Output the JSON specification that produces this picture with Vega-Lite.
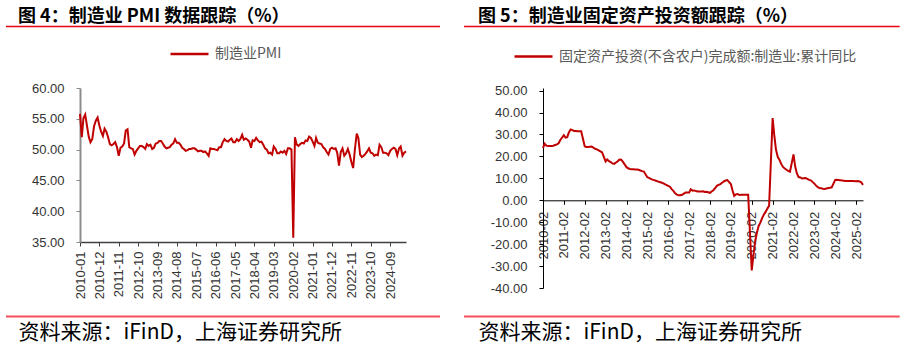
{
  "$schema": "https://vega.github.io/schema/vega-lite/v6.json",
  "padding": {"left": 5, "top": 8, "right": 0, "bottom": 2},
  "background": "white",
  "spacing": 137,
  "bounds": "flush",
  "datasets": {
    "pmi": [
      {"d":"2010-01","v":55.8},{"d":"2010-02","v":52.0},{"d":"2010-03","v":55.1},{"d":"2010-04","v":55.7},{"d":"2010-05","v":53.9},{"d":"2010-06","v":52.1},{"d":"2010-07","v":51.2},{"d":"2010-08","v":51.7},{"d":"2010-09","v":53.8},{"d":"2010-10","v":54.7},{"d":"2010-11","v":55.2},{"d":"2010-12","v":53.9},
      {"d":"2011-01","v":52.9},{"d":"2011-02","v":52.2},{"d":"2011-03","v":53.4},{"d":"2011-04","v":52.9},{"d":"2011-05","v":52.0},{"d":"2011-06","v":50.9},{"d":"2011-07","v":50.7},{"d":"2011-08","v":50.9},{"d":"2011-09","v":51.2},{"d":"2011-10","v":50.4},{"d":"2011-11","v":49.0},{"d":"2011-12","v":50.3},
      {"d":"2012-01","v":50.5},{"d":"2012-02","v":51.0},{"d":"2012-03","v":53.1},{"d":"2012-04","v":53.3},{"d":"2012-05","v":50.4},{"d":"2012-06","v":50.2},{"d":"2012-07","v":50.1},{"d":"2012-08","v":49.2},{"d":"2012-09","v":49.8},{"d":"2012-10","v":50.2},{"d":"2012-11","v":50.6},{"d":"2012-12","v":50.6},
      {"d":"2013-01","v":50.4},{"d":"2013-02","v":50.1},{"d":"2013-03","v":50.9},{"d":"2013-04","v":50.6},{"d":"2013-05","v":50.8},{"d":"2013-06","v":50.1},{"d":"2013-07","v":50.3},{"d":"2013-08","v":51.0},{"d":"2013-09","v":51.1},{"d":"2013-10","v":51.4},{"d":"2013-11","v":51.4},{"d":"2013-12","v":51.0},
      {"d":"2014-01","v":50.5},{"d":"2014-02","v":50.2},{"d":"2014-03","v":50.3},{"d":"2014-04","v":50.4},{"d":"2014-05","v":50.8},{"d":"2014-06","v":51.0},{"d":"2014-07","v":51.7},{"d":"2014-08","v":51.1},{"d":"2014-09","v":51.1},{"d":"2014-10","v":50.8},{"d":"2014-11","v":50.3},{"d":"2014-12","v":50.1},
      {"d":"2015-01","v":49.8},{"d":"2015-02","v":49.9},{"d":"2015-03","v":50.1},{"d":"2015-04","v":50.1},{"d":"2015-05","v":50.2},{"d":"2015-06","v":50.2},{"d":"2015-07","v":50.0},{"d":"2015-08","v":49.7},{"d":"2015-09","v":49.8},{"d":"2015-10","v":49.8},{"d":"2015-11","v":49.6},{"d":"2015-12","v":49.7},
      {"d":"2016-01","v":49.4},{"d":"2016-02","v":49.0},{"d":"2016-03","v":50.2},{"d":"2016-04","v":50.1},{"d":"2016-05","v":50.1},{"d":"2016-06","v":50.0},{"d":"2016-07","v":49.9},{"d":"2016-08","v":50.4},{"d":"2016-09","v":50.4},{"d":"2016-10","v":51.2},{"d":"2016-11","v":51.7},{"d":"2016-12","v":51.4},
      {"d":"2017-01","v":51.3},{"d":"2017-02","v":51.6},{"d":"2017-03","v":51.8},{"d":"2017-04","v":51.2},{"d":"2017-05","v":51.2},{"d":"2017-06","v":51.7},{"d":"2017-07","v":51.4},{"d":"2017-08","v":51.7},{"d":"2017-09","v":52.4},{"d":"2017-10","v":51.6},{"d":"2017-11","v":51.8},{"d":"2017-12","v":51.6},
      {"d":"2018-01","v":51.3},{"d":"2018-02","v":50.3},{"d":"2018-03","v":51.5},{"d":"2018-04","v":51.4},{"d":"2018-05","v":51.9},{"d":"2018-06","v":51.5},{"d":"2018-07","v":51.2},{"d":"2018-08","v":51.3},{"d":"2018-09","v":50.8},{"d":"2018-10","v":50.2},{"d":"2018-11","v":50.0},{"d":"2018-12","v":49.4},
      {"d":"2019-01","v":49.5},{"d":"2019-02","v":49.2},{"d":"2019-03","v":50.5},{"d":"2019-04","v":50.1},{"d":"2019-05","v":49.4},{"d":"2019-06","v":49.4},{"d":"2019-07","v":49.7},{"d":"2019-08","v":49.5},{"d":"2019-09","v":49.8},{"d":"2019-10","v":49.3},{"d":"2019-11","v":50.2},{"d":"2019-12","v":50.2},
      {"d":"2020-01","v":50.0},{"d":"2020-02","v":35.7},{"d":"2020-03","v":52.0},{"d":"2020-04","v":50.8},{"d":"2020-05","v":50.6},{"d":"2020-06","v":50.9},{"d":"2020-07","v":51.1},{"d":"2020-08","v":51.0},{"d":"2020-09","v":51.5},{"d":"2020-10","v":51.4},{"d":"2020-11","v":52.1},{"d":"2020-12","v":51.9},
      {"d":"2021-01","v":51.3},{"d":"2021-02","v":50.6},{"d":"2021-03","v":51.9},{"d":"2021-04","v":51.1},{"d":"2021-05","v":51.0},{"d":"2021-06","v":50.9},{"d":"2021-07","v":50.4},{"d":"2021-08","v":50.1},{"d":"2021-09","v":49.6},{"d":"2021-10","v":49.2},{"d":"2021-11","v":50.1},{"d":"2021-12","v":50.3},
      {"d":"2022-01","v":50.1},{"d":"2022-02","v":50.2},{"d":"2022-03","v":49.5},{"d":"2022-04","v":47.4},{"d":"2022-05","v":49.6},{"d":"2022-06","v":50.2},{"d":"2022-07","v":49.0},{"d":"2022-08","v":49.4},{"d":"2022-09","v":50.1},{"d":"2022-10","v":49.2},{"d":"2022-11","v":48.0},{"d":"2022-12","v":47.0},
      {"d":"2023-01","v":50.1},{"d":"2023-02","v":52.6},{"d":"2023-03","v":51.9},{"d":"2023-04","v":49.2},{"d":"2023-05","v":48.8},{"d":"2023-06","v":49.0},{"d":"2023-07","v":49.3},{"d":"2023-08","v":49.7},{"d":"2023-09","v":50.2},{"d":"2023-10","v":49.5},{"d":"2023-11","v":49.4},{"d":"2023-12","v":49.0},
      {"d":"2024-01","v":49.2},{"d":"2024-02","v":49.1},{"d":"2024-03","v":50.8},{"d":"2024-04","v":50.4},{"d":"2024-05","v":49.5},{"d":"2024-06","v":49.5},{"d":"2024-07","v":49.4},{"d":"2024-08","v":49.1},{"d":"2024-09","v":49.8},{"d":"2024-10","v":50.1},{"d":"2024-11","v":50.3},{"d":"2024-12","v":50.1},
      {"d":"2025-01","v":49.1},{"d":"2025-02","v":50.2},{"d":"2025-03","v":50.5},{"d":"2025-04","v":49.0},{"d":"2025-05","v":49.5},{"d":"2025-06","v":49.7}
    ],
    "fai": [
      {"d":"2010-02","v":23.8},{"d":"2010-03","v":25.8},{"d":"2010-04","v":24.9},{"d":"2010-05","v":24.8},{"d":"2010-06","v":24.8},{"d":"2010-07","v":24.8},{"d":"2010-08","v":24.9},{"d":"2010-09","v":25.2},{"d":"2010-10","v":25.5},{"d":"2010-11","v":26.0},{"d":"2010-12","v":27.5},
      {"d":"2011-02","v":29.7},{"d":"2011-03","v":28.6},{"d":"2011-04","v":28.8},{"d":"2011-05","v":31.0},{"d":"2011-06","v":32.3},{"d":"2011-07","v":32.0},{"d":"2011-08","v":31.6},{"d":"2011-09","v":31.6},{"d":"2011-10","v":31.5},{"d":"2011-11","v":31.5},{"d":"2011-12","v":31.5},
      {"d":"2012-02","v":24.6},{"d":"2012-03","v":24.3},{"d":"2012-04","v":24.3},{"d":"2012-05","v":24.4},{"d":"2012-06","v":24.5},{"d":"2012-07","v":24.0},{"d":"2012-08","v":23.5},{"d":"2012-09","v":23.2},{"d":"2012-10","v":22.8},{"d":"2012-11","v":22.3},{"d":"2012-12","v":21.8},
      {"d":"2013-02","v":17.7},{"d":"2013-03","v":18.6},{"d":"2013-04","v":17.8},{"d":"2013-05","v":17.4},{"d":"2013-06","v":16.8},{"d":"2013-07","v":16.6},{"d":"2013-08","v":17.2},{"d":"2013-09","v":17.8},{"d":"2013-10","v":18.6},{"d":"2013-11","v":18.5},{"d":"2013-12","v":17.5},
      {"d":"2014-02","v":15.1},{"d":"2014-03","v":14.6},{"d":"2014-04","v":14.3},{"d":"2014-05","v":14.2},{"d":"2014-06","v":14.1},{"d":"2014-07","v":14.0},{"d":"2014-08","v":14.0},{"d":"2014-09","v":13.9},{"d":"2014-10","v":13.6},{"d":"2014-11","v":13.3},{"d":"2014-12","v":13.1},
      {"d":"2015-02","v":10.5},{"d":"2015-03","v":10.2},{"d":"2015-04","v":9.8},{"d":"2015-05","v":9.4},{"d":"2015-06","v":9.2},{"d":"2015-07","v":8.9},{"d":"2015-08","v":8.6},{"d":"2015-09","v":8.3},{"d":"2015-10","v":8.1},{"d":"2015-11","v":7.8},{"d":"2015-12","v":7.4},
      {"d":"2016-02","v":6.6},{"d":"2016-03","v":6.2},{"d":"2016-04","v":5.1},{"d":"2016-05","v":4.3},{"d":"2016-06","v":3.2},{"d":"2016-07","v":2.6},{"d":"2016-08","v":2.3},{"d":"2016-09","v":2.3},{"d":"2016-10","v":2.5},{"d":"2016-11","v":3.0},{"d":"2016-12","v":3.5},
      {"d":"2017-02","v":3.5},{"d":"2017-03","v":5.0},{"d":"2017-04","v":4.4},{"d":"2017-05","v":4.5},{"d":"2017-06","v":4.2},{"d":"2017-07","v":4.0},{"d":"2017-08","v":4.0},{"d":"2017-09","v":4.0},{"d":"2017-10","v":4.1},{"d":"2017-11","v":3.8},{"d":"2017-12","v":3.9},
      {"d":"2018-02","v":3.4},{"d":"2018-03","v":4.0},{"d":"2018-04","v":4.6},{"d":"2018-05","v":5.5},{"d":"2018-06","v":6.6},{"d":"2018-07","v":7.0},{"d":"2018-08","v":7.4},{"d":"2018-09","v":8.0},{"d":"2018-10","v":8.6},{"d":"2018-11","v":9.0},{"d":"2018-12","v":9.2},
      {"d":"2019-02","v":7.4},{"d":"2019-03","v":4.6},{"d":"2019-04","v":2.0},{"d":"2019-05","v":2.7},{"d":"2019-06","v":2.8},{"d":"2019-07","v":2.4},{"d":"2019-08","v":2.5},{"d":"2019-09","v":2.5},{"d":"2019-10","v":2.5},{"d":"2019-11","v":2.5},{"d":"2019-12","v":2.5},
      {"d":"2020-02","v":-32.0},{"d":"2020-03","v":-25.2},{"d":"2020-04","v":-18.8},{"d":"2020-05","v":-14.8},{"d":"2020-06","v":-11.7},{"d":"2020-07","v":-10.2},{"d":"2020-08","v":-8.1},{"d":"2020-09","v":-6.5},{"d":"2020-10","v":-5.3},{"d":"2020-11","v":-3.8},{"d":"2020-12","v":-2.5},
      {"d":"2021-02","v":37.5},{"d":"2021-03","v":29.8},{"d":"2021-04","v":23.0},{"d":"2021-05","v":19.8},{"d":"2021-06","v":18.4},{"d":"2021-07","v":16.6},{"d":"2021-08","v":15.2},{"d":"2021-09","v":14.5},{"d":"2021-10","v":13.9},{"d":"2021-11","v":13.4},{"d":"2021-12","v":13.0},
      {"d":"2022-02","v":20.9},{"d":"2022-03","v":15.6},{"d":"2022-04","v":12.2},{"d":"2022-05","v":10.6},{"d":"2022-06","v":10.4},{"d":"2022-07","v":9.9},{"d":"2022-08","v":10.0},{"d":"2022-09","v":10.1},{"d":"2022-10","v":9.8},{"d":"2022-11","v":9.3},{"d":"2022-12","v":9.1},
      {"d":"2023-02","v":7.6},{"d":"2023-03","v":6.8},{"d":"2023-04","v":6.0},{"d":"2023-05","v":5.6},{"d":"2023-06","v":5.5},{"d":"2023-07","v":5.3},{"d":"2023-08","v":5.2},{"d":"2023-09","v":5.4},{"d":"2023-10","v":5.6},{"d":"2023-11","v":5.7},{"d":"2023-12","v":5.9},
      {"d":"2024-02","v":9.3},{"d":"2024-03","v":9.4},{"d":"2024-04","v":9.2},{"d":"2024-05","v":9.1},{"d":"2024-06","v":9.0},{"d":"2024-07","v":8.9},{"d":"2024-08","v":8.8},{"d":"2024-09","v":8.8},{"d":"2024-10","v":8.8},{"d":"2024-11","v":8.8},{"d":"2024-12","v":8.8},
      {"d":"2025-02","v":8.7},{"d":"2025-03","v":8.8},{"d":"2025-04","v":8.6},{"d":"2025-05","v":8.2},{"d":"2025-06","v":7.0}
    ]
  },
  "resolve": {"scale": {"color": "independent"}, "legend": {"color": "independent"}},
  "hconcat": [
    {
      "width": 326,
      "height": 154,
      "title": {"text": "图 4：制造业 PMI 数据跟踪（%）", "anchor": "start", "frame": "group", "dx": -62, "offset": -0.7, "fontSize": 18, "font": "Noto Sans CJK SC", "fontWeight": "bold", "color": "#000000", "limit": 500},
      "layer": [
        {
          "data": {"name": "pmi"},
          "mark": {"type": "line", "strokeWidth": 2, "clip": false},
          "encoding": {
            "x": {
              "field": "d", "type": "temporal",
              "scale": {"type": "utc", "domain": [{"year": 2010, "month": 1, "date": 1, "utc": true}, {"year": 2025, "month": 6, "date": 1, "utc": true}]},
              "axis": {
                "values": [
                  {"year":2010,"month":1,"date":1,"utc":true},{"year":2010,"month":12,"date":1,"utc":true},{"year":2011,"month":11,"date":1,"utc":true},{"year":2012,"month":10,"date":1,"utc":true},
                  {"year":2013,"month":9,"date":1,"utc":true},{"year":2014,"month":8,"date":1,"utc":true},{"year":2015,"month":7,"date":1,"utc":true},{"year":2016,"month":6,"date":1,"utc":true},
                  {"year":2017,"month":5,"date":1,"utc":true},{"year":2018,"month":4,"date":1,"utc":true},{"year":2019,"month":3,"date":1,"utc":true},{"year":2020,"month":2,"date":1,"utc":true},
                  {"year":2021,"month":1,"date":1,"utc":true},{"year":2021,"month":12,"date":1,"utc":true},{"year":2022,"month":11,"date":1,"utc":true},{"year":2023,"month":10,"date":1,"utc":true},
                  {"year":2024,"month":9,"date":1,"utc":true}
                ],
                "labelExpr": "utcFormat(datum.value, '%Y-%m')",
                "labelAngle": -90, "labelAlign": "right", "labelBaseline": "middle", "labelPadding": 5,
                "labelFlush": false, "labelOverlap": false, "labelBound": false,
                "tickSize": 4, "domainColor": "#404040", "tickColor": "#404040", "domainWidth": 1.5,
                "title": "资料来源：iFinD，上海证券研究所",
                "titleFont": "Noto Sans CJK SC", "titleFontSize": 21, "titleFontWeight": "normal", "titleColor": "#000000",
                "titleAnchor": "start", "titleAlign": "left", "titleBaseline": "middle", "titleAngle": 0,
                "titleX": -62, "titleY": 90.5, "titleLimit": 500
              }
            },
            "y": {
              "field": "v", "type": "quantitative",
              "scale": {"domain": [35, 60], "nice": false, "zero": false},
              "axis": {
                "values": [35, 40, 45, 50, 55, 60], "format": ".2f", "title": null,
                "labelPadding": 12, "tickSize": 4, "domainColor": "#8c8c8c", "tickColor": "#8c8c8c", "domainWidth": 2
              }
            },
            "color": {
              "datum": "制造业PMI", "type": "nominal",
              "scale": {"range": ["#c00000"]},
              "legend": {"orient": "none", "legendX": 89, "legendY": -54.5, "title": null, "symbolType": "stroke", "symbolSize": 1444, "symbolStrokeWidth": 2.5, "labelFont": "Noto Sans CJK SC", "labelFontSize": 14, "labelColor": "#595959", "labelOffset": 5, "padding": 0}
            }
          }
        },
        {
          "data": {"values": [{}]},
          "mark": {"type": "rule", "color": "#e60012", "strokeWidth": 1.5},
          "encoding": {"x": {"value": -74}, "x2": {"value": 360}, "y": {"value": -61.6}}
        },
        {
          "data": {"values": [{}]},
          "mark": {"type": "rule", "color": "#f5505a", "strokeWidth": 2},
          "encoding": {"x": {"value": -74}, "x2": {"value": 360}, "y": {"value": 228.4}}
        }
      ]
    },
    {
      "width": 320,
      "height": 200,
      "title": {"text": "图 5：制造业固定资产投资额跟踪（%）", "anchor": "start", "frame": "group", "dx": -65, "offset": -0.7, "fontSize": 18, "font": "Noto Sans CJK SC", "fontWeight": "bold", "color": "#000000", "limit": 500},
      "layer": [
        {
          "data": {"name": "fai"},
          "mark": {"type": "line", "strokeWidth": 2, "clip": false},
          "encoding": {
            "x": {
              "field": "d", "type": "temporal",
              "scale": {"type": "utc", "domain": [{"year": 2010, "month": 2, "date": 1, "utc": true}, {"year": 2025, "month": 6, "date": 1, "utc": true}]},
              "axis": {
                "values": [
                  {"year":2010,"month":2,"date":1,"utc":true},{"year":2011,"month":2,"date":1,"utc":true},{"year":2012,"month":2,"date":1,"utc":true},{"year":2013,"month":2,"date":1,"utc":true},
                  {"year":2014,"month":2,"date":1,"utc":true},{"year":2015,"month":2,"date":1,"utc":true},{"year":2016,"month":2,"date":1,"utc":true},{"year":2017,"month":2,"date":1,"utc":true},
                  {"year":2018,"month":2,"date":1,"utc":true},{"year":2019,"month":2,"date":1,"utc":true},{"year":2020,"month":2,"date":1,"utc":true},{"year":2021,"month":2,"date":1,"utc":true},
                  {"year":2022,"month":2,"date":1,"utc":true},{"year":2023,"month":2,"date":1,"utc":true},{"year":2024,"month":2,"date":1,"utc":true},{"year":2025,"month":2,"date":1,"utc":true}
                ],
                "labelExpr": "utcFormat(datum.value, '%Y-%m')",
                "offset": -87.7,
                "labelAngle": -90, "labelAlign": "right", "labelBaseline": "middle", "labelPadding": 7,
                "labelFlush": false, "labelOverlap": false, "labelBound": false,
                "tickSize": 4, "domainColor": "#000000", "tickColor": "#000000", "domainWidth": 1,
                "title": "资料来源：iFinD，上海证券研究所",
                "titleFont": "Noto Sans CJK SC", "titleFontSize": 21, "titleFontWeight": "normal", "titleColor": "#000000",
                "titleAnchor": "start", "titleAlign": "left", "titleBaseline": "middle", "titleAngle": 0,
                "titleX": -65, "titleY": 132.5, "titleLimit": 500
              }
            },
            "y": {
              "field": "v", "type": "quantitative",
              "scale": {"domain": [-40, 51.2], "nice": false, "zero": false},
              "axis": {
                "values": [-40, -30, -20, -10, 0, 10, 20, 30, 40, 50],
                "labelExpr": "replace(format(datum.value, '.2f'), '\u2212', '-')",
                "title": null, "labelPadding": 12, "tickSize": 4, "domainColor": "#000000", "tickColor": "#000000", "domainWidth": 1
              }
            },
            "color": {
              "datum": "固定资产投资(不含农户)完成额:制造业:累计同比", "type": "nominal",
              "scale": {"range": ["#c00000"]},
              "legend": {"orient": "none", "legendX": -30, "legendY": -52, "title": null, "symbolType": "stroke", "symbolSize": 1444, "symbolStrokeWidth": 2.5, "labelFont": "Noto Sans CJK SC", "labelFontSize": 14, "labelColor": "#595959", "labelOffset": 5, "padding": 0, "labelLimit": 400}
            }
          }
        },
        {
          "data": {"values": [{}]},
          "mark": {"type": "rule", "color": "#e60012", "strokeWidth": 1.5},
          "encoding": {"x": {"value": -79}, "x2": {"value": 356.7}, "y": {"value": -61.6}}
        },
        {
          "data": {"values": [{}]},
          "mark": {"type": "rule", "color": "#f5505a", "strokeWidth": 2},
          "encoding": {"x": {"value": -79}, "x2": {"value": 356.7}, "y": {"value": 228.4}}
        }
      ]
    }
  ],
  "config": {
    "view": {"stroke": null},
    "axis": {"grid": false, "labelFont": "Liberation Sans", "labelFontSize": 13, "labelColor": "#333333"},
    "legend": {"padding": 0}
  }
}
